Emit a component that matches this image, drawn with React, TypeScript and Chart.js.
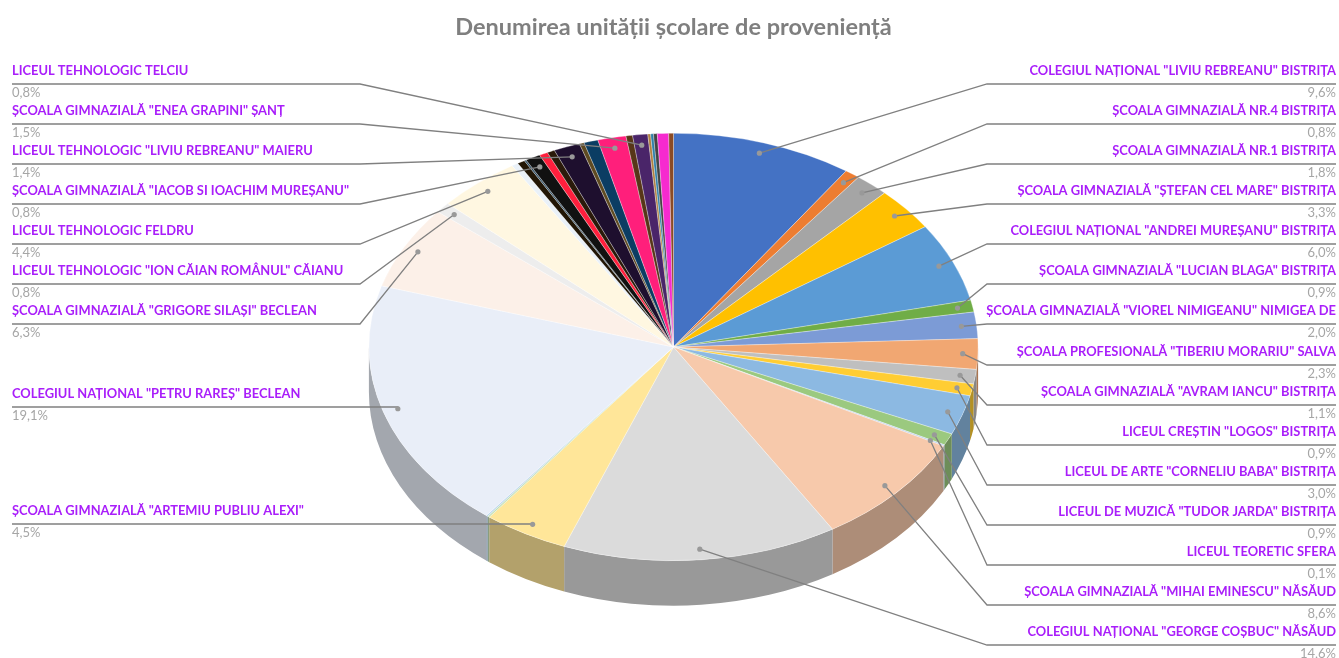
import React, { useEffect, useRef } from "react";
import { Chart, registerables } from "chart.js";

Chart.register(...registerables);

const TITLE = "Denumirea unității școlare de proveniență";

// Slices clockwise from 12 o'clock. An empty name is a slice without a label.
const categories = [
  'COLEGIUL NAȚIONAL "LIVIU REBREANU" BISTRIȚA',
  "ȘCOALA GIMNAZIALĂ NR.4 BISTRIȚA",
  "ȘCOALA GIMNAZIALĂ NR.1 BISTRIȚA",
  'ȘCOALA GIMNAZIALĂ "ȘTEFAN CEL MARE" BISTRIȚA',
  'COLEGIUL NAȚIONAL "ANDREI MUREȘANU" BISTRIȚA',
  'ȘCOALA GIMNAZIALĂ "LUCIAN BLAGA" BISTRIȚA',
  'ȘCOALA GIMNAZIALĂ "VIOREL NIMIGEANU" NIMIGEA DE',
  'ȘCOALA PROFESIONALĂ "TIBERIU MORARIU" SALVA',
  'ȘCOALA GIMNAZIALĂ "AVRAM IANCU" BISTRIȚA',
  'LICEUL CREȘTIN "LOGOS" BISTRIȚA',
  'LICEUL DE ARTE "CORNELIU BABA" BISTRIȚA',
  'LICEUL DE MUZICĂ "TUDOR JARDA" BISTRIȚA',
  "LICEUL TEORETIC SFERA",
  'ȘCOALA GIMNAZIALĂ "MIHAI EMINESCU" NĂSĂUD',
  'COLEGIUL NAȚIONAL "GEORGE COȘBUC" NĂSĂUD',
  'ȘCOALA GIMNAZIALĂ "ARTEMIU PUBLIU ALEXI"',
  "",
  "",
  'COLEGIUL NAȚIONAL "PETRU RAREȘ" BECLEAN',
  'ȘCOALA GIMNAZIALĂ "GRIGORE SILAȘI" BECLEAN',
  'LICEUL TEHNOLOGIC "ION CĂIAN ROMÂNUL" CĂIANU',
  "LICEUL TEHNOLOGIC FELDRU",
  "",
  "",
  "",
  'ȘCOALA GIMNAZIALĂ "IACOB SI IOACHIM MUREȘANU"',
  "",
  "",
  'LICEUL TEHNOLOGIC "LIVIU REBREANU" MAIERU',
  "",
  "",
  'ȘCOALA GIMNAZIALĂ "ENEA GRAPINI" ȘANȚ',
  "",
  "LICEUL TEHNOLOGIC TELCIU",
  "",
  "",
  "",
  "",
  "",
];

const shares = [
  9.6, 0.8, 1.8, 3.3, 6.0, 0.9, 2.0, 2.3, 1.1, 0.9, 3.0, 0.9, 0.1, 8.6, 14.6, 4.5,
  0.1, 0.1, 19.1, 6.3, 0.8, 4.4, 0.35, 0.4, 0.1, 0.8, 0.45, 0.4, 1.4, 0.25, 0.75, 1.5,
  0.35, 0.8, 0.15, 0.15, 0.2, 0.6, 0.25,
];

const sliceColors = [
  "#4472C4", "#ED7D31", "#A5A5A5", "#FFC000", "#5B9BD5", "#70AD47", "#7C9BD6", "#F1A772", "#BFBFBF", "#FFCD33",
  "#8CB9E2", "#9BC97F", "#BBD0EC", "#F7C9AB", "#DBDBDB", "#FFE699", "#C5E0B4", "#BDD7EE", "#E9EEF8", "#FCF0E8",
  "#EDEDED", "#FFF7E1", "#EAF1F8", "#211606", "#2F4D62", "#111111", "#FF1F3D", "#2A1A0A", "#1E0F2E", "#5F4B22",
  "#0B3D63", "#FF1F7B", "#573618", "#4A2569", "#B08040", "#2F7FA8", "#444444", "#F62ACF", "#8A4B25",
];

// Rows of the outside labels, listed in the order the labelled slices come round.
const rightRows = [84, 124, 164, 204, 244, 284, 324, 365, 405, 445, 485, 525, 565, 605, 645];
const leftRows = [524, 407, 324, 284, 244, 204, 164, 124, 84];

const FACE_RATIO = 213.7 / 304.6;
const WALL_DEPTH = 45;
const WALL_SHADE = 0.7;
const DOT_RADIUS = 0.95;
const LEFT_X = 12;
const LEFT_ELBOW = 360;
const RIGHT_X = 1336;
const RIGHT_ELBOW = 987;
const LABEL_FONT = "bold 12.9px Lato, 'Noto Sans', sans-serif";
const VALUE_FONT = "13px Lato, 'Noto Sans', sans-serif";
const LABEL_COLOR = "#A91EFA";
const VALUE_COLOR = "#A6A6A6";
const LEADER_COLOR = "#808080";

const shade = (hex: string, f: number) => {
  const n = parseInt(hex.slice(1), 16);
  const c = (s: number) => Math.round(((n >> s) & 255) * f);
  return `rgb(${c(16)},${c(8)},${c(0)})`;
};

const pie3d = {
  id: "pie3d",
  beforeDatasetsDraw(chart: any) {
    const ctx = chart.ctx;
    chart.getDatasetMeta(0).data.forEach((arc: any, i: number) => {
      const { x, y, outerRadius: r, startAngle, endAngle } = arc.getProps(
        ["x", "y", "outerRadius", "startAngle", "endAngle"],
        true
      );
      const ry = r * FACE_RATIO;
      // Angles run from -PI/2 up to 3PI/2; the front half is 0..PI.
      const a = Math.max(startAngle, 0);
      const b = Math.min(endAngle, Math.PI);
      if (b <= a) return;
      ctx.save();
      ctx.beginPath();
      ctx.ellipse(x, y, r, ry, 0, a, b);
      ctx.ellipse(x, y + WALL_DEPTH, r, ry, 0, b, a, true);
      ctx.closePath();
      ctx.fillStyle = shade(sliceColors[i], WALL_SHADE);
      ctx.fill();
      ctx.restore();
    });
  },
  beforeDatasetDraw(chart: any) {
    const ctx = chart.ctx;
    const arc = chart.getDatasetMeta(0).data[0];
    ctx.save();
    ctx.translate(0, arc.y);
    ctx.scale(1, FACE_RATIO);
    ctx.translate(0, -arc.y);
  },
  afterDatasetDraw(chart: any) {
    chart.ctx.restore();
  },
  afterDatasetsDraw(chart: any) {
    const ctx = chart.ctx;
    let right = 0;
    let left = 0;
    chart.getDatasetMeta(0).data.forEach((arc: any, i: number) => {
      const name = categories[i];
      if (!name) return;
      const { x, y, outerRadius: r, startAngle, endAngle } = arc.getProps(
        ["x", "y", "outerRadius", "startAngle", "endAngle"],
        true
      );
      const mid = (startAngle + endAngle) / 2;
      const dx = x + DOT_RADIUS * r * Math.cos(mid);
      const dy = y + DOT_RADIUS * r * FACE_RATIO * Math.sin(mid);
      const onRight = Math.cos(mid) > 0 || i < 15;
      const row = onRight ? rightRows[right++] : leftRows[left++];
      const edge = onRight ? RIGHT_X : LEFT_X;
      const elbow = onRight ? RIGHT_ELBOW : Math.abs(dy - row) < 4 ? dx : LEFT_ELBOW;

      ctx.save();
      ctx.strokeStyle = LEADER_COLOR;
      ctx.lineWidth = 1.3;
      ctx.beginPath();
      ctx.moveTo(edge, row);
      ctx.lineTo(elbow, row);
      ctx.lineTo(dx, dy);
      ctx.stroke();
      ctx.fillStyle = "#999999";
      ctx.beginPath();
      ctx.arc(dx, dy, 2.6, 0, Math.PI * 2);
      ctx.fill();

      ctx.textAlign = onRight ? "right" : "left";
      ctx.textBaseline = "middle";
      ctx.font = LABEL_FONT;
      ctx.fillStyle = LABEL_COLOR;
      ctx.fillText(name, edge, row - 13.5);
      ctx.font = VALUE_FONT;
      ctx.fillStyle = VALUE_COLOR;
      ctx.fillText(shares[i].toFixed(1).replace(".", ",") + "%", edge, row + 9);
      ctx.restore();
    });
  },
};

export default function App() {
  const ref = useRef<HTMLCanvasElement>(null);
  useEffect(() => {
    const chart = new Chart(ref.current as HTMLCanvasElement, {
      type: "pie",
      data: {
        labels: categories,
        datasets: [
          {
            data: shares,
            backgroundColor: sliceColors,
            borderWidth: 0.8,
            borderColor: "rgba(255,255,255,0.45)",
            clip: false,
          } as any,
        ],
      },
      options: {
        animation: false,
        responsive: false,
        devicePixelRatio: 1,
        layout: { padding: { left: 8, right: 0, top: 0, bottom: 6 } },
        plugins: {
          legend: { display: false },
          tooltip: { enabled: false },
          title: {
            display: true,
            text: TITLE,
            fullSize: false,
            color: "#7F7F7F",
            font: { family: "Lato, 'Noto Sans', sans-serif", size: 23.5, weight: "bold", lineHeight: 1.1 },
            padding: { top: 14, bottom: 2.15 },
          },
        },
      } as any,
      plugins: [pie3d],
    });
    return () => chart.destroy();
  }, []);
  return (
    <div style={{ position: "absolute", left: 0, top: 0, width: 1339, height: 658, background: "#fff" }}>
      <canvas ref={ref} width={1339} height={658} style={{ display: "block" }} />
    </div>
  );
}
